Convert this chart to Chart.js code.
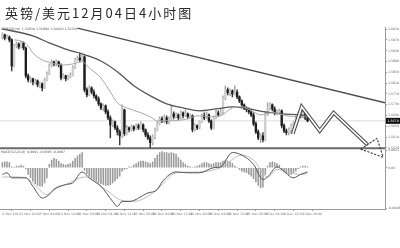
<!DOCTYPE html>
<html>
<head>
<meta charset="utf-8">
<script src="https://cdn.jsdelivr.net/npm/chart.js@4.4.1/dist/chart.umd.min.js"></script>
<style>
  html, body { margin: 0; padding: 0; background: #fff; }
  #wrap { position: relative; width: 400px; height: 248px; overflow: hidden; background: #fff; }
  #title { position: absolute; left: 5px; top: 4px; font: 13px "Noto Sans CJK SC", sans-serif; letter-spacing: 2px; color: #2a2a2a; white-space: nowrap; line-height: 18px; }
  canvas { position: absolute; left: 0; top: 0; }
</style>
</head>
<body>
<div id="wrap">
  <canvas id="c" width="400" height="248" style="width:400px;height:248px"></canvas>
  <div id="title">英镑/美元12月04日4小时图</div>
</div>
<script>
// GBP/USD, 4-hour bars from 4 Nov 2014 12:00 to 4 Dec 2014 04:00
const openP = [
  1.5981,1.5989,1.5977,1.5981,1.5970,1.5874,1.5948,1.5955,1.5944,1.5959,
  1.5940,1.5837,1.5822,1.5826,1.5814,1.5818,1.5803,1.5807,1.5792,1.5822,
  1.5844,1.5874,1.5889,1.5881,1.5889,1.5877,1.5829,1.5837,1.5826,1.5833,
  1.5840,1.5866,1.5896,1.5903,1.5896,1.5907,1.5785,1.5766,1.5792,1.5777,
  1.5763,1.5752,1.5733,1.5718,1.5726,1.5703,1.5681,1.5655,1.5666,1.5644,
  1.5629,1.5614,1.5711,1.5622,1.5644,1.5637,1.5648,1.5640,1.5652,1.5644,
  1.5655,1.5637,1.5618,1.5607,1.5589,1.5611,1.5637,1.5659,1.5677,1.5670,
  1.5681,1.5666,1.5677,1.5696,1.5685,1.5692,1.5681,1.5700,1.5689,1.5696,
  1.5685,1.5689,1.5637,1.5652,1.5644,1.5666,1.5689,1.5681,1.5692,1.5670,
  1.5644,1.5681,1.5700,1.5692,1.5703,1.5755,1.5785,1.5774,1.5781,1.5770,
  1.5777,1.5759,1.5744,1.5729,1.5718,1.5711,1.5703,1.5692,1.5659,1.5629,
  1.5607,1.5614,1.5600,1.5692,1.5718,1.5729,1.5714,1.5700,1.5703,1.5707,
  1.5652,1.5633,1.5626,1.5637,1.5652,1.5659,1.5681,1.5696,1.5689,1.5700,
  1.5681
];
const highP = [
  1.5996,1.5992,1.5989,1.5985,1.5974,1.5955,1.5963,1.5959,1.5966,1.5963,
  1.5944,1.5844,1.5833,1.5829,1.5826,1.5822,1.5814,1.5811,1.5829,1.5852,
  1.5881,1.5896,1.5892,1.5896,1.5892,1.5881,1.5844,1.5840,1.5840,1.5848,
  1.5874,1.5903,1.5911,1.5922,1.5914,1.5911,1.5792,1.5800,1.5796,1.5785,
  1.5766,1.5759,1.5737,1.5733,1.5729,1.5711,1.5689,1.5674,1.5670,1.5652,
  1.5637,1.5729,1.5714,1.5652,1.5648,1.5655,1.5652,1.5659,1.5659,1.5666,
  1.5659,1.5640,1.5626,1.5614,1.5618,1.5644,1.5666,1.5685,1.5685,1.5692,
  1.5689,1.5685,1.5726,1.5703,1.5700,1.5696,1.5707,1.5703,1.5711,1.5700,
  1.5696,1.5692,1.5659,1.5655,1.5670,1.5696,1.5700,1.5703,1.5696,1.5674,
  1.5689,1.5711,1.5707,1.5714,1.5763,1.5800,1.5792,1.5789,1.5785,1.5800,
  1.5785,1.5763,1.5748,1.5733,1.5722,1.5718,1.5711,1.5700,1.5666,1.5637,
  1.5622,1.5626,1.5703,1.5737,1.5737,1.5733,1.5722,1.5711,1.5714,1.5711,
  1.5659,1.5640,1.5644,1.5659,1.5666,1.5689,1.5703,1.5703,1.5707,1.5703,
  1.5689
];
const lowP = [
  1.5974,1.5970,1.5974,1.5963,1.5855,1.5870,1.5940,1.5937,1.5940,1.5933,
  1.5829,1.5814,1.5811,1.5803,1.5807,1.5796,1.5792,1.5781,1.5789,1.5818,
  1.5840,1.5870,1.5874,1.5874,1.5870,1.5822,1.5826,1.5818,1.5822,1.5829,
  1.5837,1.5863,1.5892,1.5889,1.5892,1.5777,1.5759,1.5763,1.5770,1.5755,
  1.5744,1.5726,1.5711,1.5707,1.5696,1.5674,1.5607,1.5648,1.5637,1.5618,
  1.5581,1.5607,1.5614,1.5618,1.5629,1.5633,1.5633,1.5637,1.5637,1.5640,
  1.5629,1.5611,1.5600,1.5570,1.5581,1.5603,1.5633,1.5655,1.5663,1.5663,
  1.5659,1.5659,1.5674,1.5677,1.5681,1.5674,1.5677,1.5681,1.5685,1.5677,
  1.5681,1.5629,1.5633,1.5637,1.5640,1.5663,1.5674,1.5677,1.5663,1.5637,
  1.5640,1.5677,1.5685,1.5689,1.5696,1.5748,1.5766,1.5763,1.5759,1.5766,
  1.5752,1.5737,1.5722,1.5711,1.5703,1.5696,1.5685,1.5652,1.5622,1.5600,
  1.5589,1.5592,1.5596,1.5689,1.5711,1.5707,1.5692,1.5692,1.5696,1.5644,
  1.5626,1.5618,1.5618,1.5622,1.5644,1.5652,1.5674,1.5681,1.5681,1.5674,
  1.5666
];
const closeP = [
  1.5989,1.5977,1.5981,1.5970,1.5874,1.5948,1.5955,1.5944,1.5959,1.5940,
  1.5837,1.5822,1.5826,1.5814,1.5818,1.5803,1.5807,1.5792,1.5822,1.5844,
  1.5874,1.5889,1.5881,1.5889,1.5877,1.5829,1.5837,1.5826,1.5833,1.5840,
  1.5866,1.5896,1.5903,1.5896,1.5907,1.5785,1.5766,1.5792,1.5777,1.5763,
  1.5752,1.5733,1.5718,1.5726,1.5703,1.5681,1.5655,1.5666,1.5644,1.5629,
  1.5614,1.5711,1.5622,1.5644,1.5637,1.5648,1.5640,1.5652,1.5644,1.5655,
  1.5637,1.5618,1.5607,1.5589,1.5611,1.5637,1.5659,1.5677,1.5670,1.5681,
  1.5666,1.5677,1.5696,1.5685,1.5692,1.5681,1.5700,1.5689,1.5696,1.5685,
  1.5689,1.5637,1.5652,1.5644,1.5666,1.5689,1.5681,1.5692,1.5670,1.5644,
  1.5681,1.5700,1.5692,1.5703,1.5755,1.5785,1.5774,1.5781,1.5770,1.5777,
  1.5759,1.5744,1.5729,1.5718,1.5711,1.5703,1.5692,1.5659,1.5629,1.5607,
  1.5614,1.5600,1.5692,1.5718,1.5729,1.5714,1.5700,1.5703,1.5707,1.5652,
  1.5633,1.5626,1.5637,1.5652,1.5659,1.5681,1.5696,1.5689,1.5700,1.5681,
  1.5670
];

// Moving averages, [bar, price]
const maSlow = [[0,1.6011],[13,1.5985],[20,1.5959],[28,1.5933],[34,1.5918],[42,1.5892],[49,1.5852],[56,1.5800],[63,1.5763],[70,1.5733],[77,1.5718],[84,1.5707],[91,1.5714],[98,1.5722],[105,1.5714],[112,1.5703],[119,1.5696],[127,1.5692],[130,1.5689]];
const maFast = [[5,1.5970],[8,1.5966],[11,1.5948],[13,1.5922],[17,1.5896],[21,1.5885],[26,1.5877],[30,1.5881],[34,1.5889],[37,1.5866],[42,1.5829],[46,1.5777],[49,1.5737],[53,1.5718],[59,1.5700],[63,1.5685],[66,1.5670],[71,1.5670],[77,1.5674],[84,1.5689],[88,1.5685],[93,1.5689],[98,1.5718],[102,1.5722],[107,1.5703],[110,1.5692],[115,1.5700],[121,1.5689],[127,1.5685],[130,1.5685]];

// Descending resistance line and projected path, [bar, price]
const trendLine = [[32,1.6014],[163,1.5737]];
const arrowPath = [[123.7,1.5622],[127.5,1.5722],[135.2,1.5633],[141.1,1.5700],[155.6,1.5581]];
const arrowHead = [[152.6,1.5565],[162.2,1.5535],[159.6,1.5605],[152.6,1.5565]];

// MACD(12,26,9)
const macdHist = [
  0.0006,0.0007,0.0007,0.0006,0.0001,0.0000,0.0002,0.0002,0.0003,0.0002,
  -0.0001,-0.0008,-0.0012,-0.0016,-0.0019,-0.0021,-0.0022,-0.0022,-0.0018,-0.0012,
  0.0004,0.0009,0.0011,0.0010,0.0008,0.0005,0.0004,0.0003,0.0004,0.0005,
  0.0008,0.0011,0.0014,0.0016,0.0018,-0.0003,-0.0007,-0.0010,-0.0012,-0.0014,
  -0.0016,-0.0018,-0.0019,-0.0020,-0.0021,-0.0021,-0.0020,-0.0018,-0.0016,-0.0013,
  -0.0010,-0.0004,-0.0002,-0.0001,0.0001,0.0001,0.0003,0.0005,0.0007,0.0008,
  0.0008,0.0007,0.0006,0.0005,0.0007,0.0011,0.0015,0.0018,0.0019,0.0018,
  0.0018,0.0017,0.0018,0.0017,0.0016,0.0012,0.0009,0.0006,0.0004,0.0002,
  0.0001,0.0000,0.0001,0.0002,0.0003,0.0005,0.0006,0.0006,0.0005,0.0004,
  0.0005,0.0006,0.0006,0.0006,0.0008,0.0009,0.0008,0.0007,0.0005,0.0002,
  0.0000,-0.0002,-0.0004,-0.0005,-0.0006,-0.0008,-0.0010,-0.0013,-0.0017,-0.0021,
  -0.0024,-0.0023,-0.0008,0.0002,0.0006,0.0007,0.0006,0.0005,0.0003,-0.0002,
  -0.0005,-0.0007,-0.0008,-0.0008,-0.0006,-0.0004,-0.0001,0.0001,0.0002,0.0002,
  0.0001
];
const macdMain = [[0,-0.0008],[2,-0.0006],[4,-0.0012],[10,-0.0012],[13,-0.0022],[17,-0.0036],[19,-0.0034],[22,-0.0026],[27,-0.0020],[30,-0.0018],[34,-0.0005],[37,-0.0012],[42,-0.0022],[47,-0.0040],[49,-0.0046],[51,-0.0040],[54,-0.0040],[62,-0.0030],[66,-0.0026],[68,-0.0017],[74,-0.0005],[79,-0.0006],[84,-0.0006],[90,0.0000],[93,0.0001],[98,0.0018],[102,0.0015],[107,0.0004],[111,-0.0014],[113,-0.0011],[117,0.0001],[119,-0.0002],[124,-0.0012],[127,-0.0008],[130,-0.0005]];
const macdSignal = [[0,-0.0011],[5,-0.0011],[10,-0.0012],[15,-0.0024],[19,-0.0032],[23,-0.0023],[27,-0.0020],[33,-0.0012],[36,-0.0011],[40,-0.0018],[46,-0.0030],[50,-0.0038],[56,-0.0040],[62,-0.0034],[67,-0.0023],[74,-0.0006],[84,-0.0005],[93,0.0000],[102,0.0015],[107,0.0009],[113,-0.0011],[117,-0.0002],[121,-0.0005],[127,-0.0008],[130,-0.0007]];

// Axis ticks
const xTickIdx = [0,8,16,24,32,40,48,56,64,72,80,88,96,104,112,120,128];
const xTickLabels = ["4 Nov 2014","5 Nov 20:00","7 Nov 04:00","10 Nov 12:00","11 Nov 20:00","13 Nov 04:00","14 Nov 12:00","17 Nov 20:00","19 Nov 04:00","20 Nov 12:00","21 Nov 20:00","25 Nov 04:00","26 Nov 12:00","27 Nov 20:00","1 Dec 04:00","2 Dec 12:00","3 Dec 20:00"];
const priceTicks = [1.5570,1.5610,1.5650,1.5690,1.5730,1.5770,1.5810,1.5850,1.5890,1.5930,1.5970,1.6010];
const macdTicks = [0.0021,0,-0.0048];

const pts = pairs => pairs.map(([x, y]) => ({ x, y }));
const last = closeP.length - 1;
const isUp = i => closeP[i] >= openP[i];
const tiny = { size: 3.2, family: 'DejaVu Sans' };

// Panel separator, header readouts and the last-price tag
const panelDecor = {
  id: 'panelDecor',
  beforeDatasetsDraw(chart) {
    const { ctx, chartArea } = chart;
    const top2 = chart.scales.y2.top;
    ctx.save();
    ctx.strokeStyle = '#6a6a6a';
    ctx.lineWidth = 2;
    ctx.beginPath();
    ctx.moveTo(chartArea.left, top2);
    ctx.lineTo(chartArea.right, top2);
    ctx.stroke();
    ctx.restore();
  },
  afterDraw(chart) {
    const { ctx, chartArea } = chart;
    const top2 = chart.scales.y2.top;
    ctx.save();
    ctx.font = '3.2px "DejaVu Sans"';
    ctx.fillStyle = '#555';
    ctx.textBaseline = 'top';
    ctx.fillText('GBPUSD,H4  ' + [openP[last], highP[last], lowP[last], closeP[last]].map(v => v.toFixed(5)).join(' '), chartArea.left + 1, chartArea.top + 1);
    ctx.fillText('MACD(12,26,9)  ' + [macdHist[last], macdMain[macdMain.length - 1][1], macdSignal[macdSignal.length - 1][1]].map(v => v.toFixed(4)).join(' '), chartArea.left + 1, top2 + 2);
    const py = chart.scales.y.getPixelForValue(closeP[last]);
    ctx.fillStyle = '#111';
    ctx.fillRect(chartArea.right + 1, py - 3, 14, 6);
    ctx.fillStyle = '#fff';
    ctx.textBaseline = 'middle';
    ctx.fillText(closeP[last].toFixed(4), chartArea.right + 2.5, py);
    ctx.restore();
  }
};

new Chart(document.getElementById('c'), {
  type: 'bar',
  data: {
    datasets: [
      { type: 'line', label: 'Projection head', yAxisID: 'y', data: pts(arrowHead), borderColor: '#3a3a3a', borderWidth: 1.1, borderDash: [2.2, 1.4], tension: 0, clip: false, order: 0 },
      { type: 'line', label: 'Projection', yAxisID: 'y', data: pts(arrowPath), borderColor: '#fff', borderWidth: 1.6, tension: 0, borderJoinStyle: 'miter', clip: false, order: 1 },
      { type: 'line', label: 'Projection edge', yAxisID: 'y', data: pts(arrowPath), borderColor: '#4a4a4a', borderWidth: 3.8, tension: 0, borderJoinStyle: 'miter', clip: false, order: 2 },
      { type: 'line', label: 'MA fast', yAxisID: 'y', data: pts(maFast), borderColor: '#a8a8a8', borderWidth: 1, cubicInterpolationMode: 'monotone', order: 3 },
      { type: 'line', label: 'MA slow', yAxisID: 'y', data: pts(maSlow), borderColor: '#555', borderWidth: 1.3, cubicInterpolationMode: 'monotone', order: 4 },
      { type: 'bar', label: 'Body', yAxisID: 'y', grouped: false, barThickness: 1.7, minBarLength: 0.8,
        data: openP.map((o, i) => ({ x: i, y: [o, closeP[i]] })),
        backgroundColor: c => isUp(c.dataIndex) ? '#cfcfcf' : '#1c1c1c', order: 5 },
      { type: 'bar', label: 'Wick', yAxisID: 'y', grouped: false, barThickness: 0.8,
        data: lowP.map((l, i) => ({ x: i, y: [l, highP[i]] })),
        backgroundColor: c => isUp(c.dataIndex) ? '#a5a5a5' : '#3a3a3a', order: 6 },
      { type: 'line', label: 'Trend', yAxisID: 'y', data: pts(trendLine), borderColor: '#4d4d4d', borderWidth: 1.4, tension: 0, order: 7 },
      { type: 'line', label: 'Last', yAxisID: 'y', data: [{ x: -1, y: closeP[last] }, { x: 163, y: closeP[last] }], borderColor: '#d2d2d2', borderWidth: 0.8, tension: 0, order: 8 },
      { type: 'line', label: 'MACD', yAxisID: 'y2', data: pts(macdMain), borderColor: '#555', borderWidth: 1, cubicInterpolationMode: 'monotone', order: 3 },
      { type: 'line', label: 'Signal', yAxisID: 'y2', data: pts(macdSignal), borderColor: '#bdbdbd', borderWidth: 1, cubicInterpolationMode: 'monotone', order: 4 },
      { type: 'bar', label: 'Histogram', yAxisID: 'y2', grouped: false, barThickness: 0.9,
        data: macdHist.map((v, i) => ({ x: i, y: v })), backgroundColor: '#9a9a9a', order: 6 }
    ]
  },
  options: {
    responsive: false,
    animation: false,
    layout: { padding: { top: 27, bottom: 31, left: 0, right: 0 } },
    plugins: { legend: { display: false }, tooltip: { enabled: false }, title: { display: false } },
    elements: { point: { radius: 0 }, line: { borderJoinStyle: 'round' } },
    scales: {
      x: {
        type: 'linear', min: -1, max: 163, offset: false, position: 'bottom',
        grid: { display: true, drawOnChartArea: false, drawTicks: true, tickLength: 2, color: '#999' },
        border: { color: '#9a9a9a', width: 1 },
        ticks: { font: tiny, color: '#777', padding: 1, align: 'start', autoSkip: false, maxRotation: 0, minRotation: 0, callback: (v, i) => xTickLabels[i] },
        afterBuildTicks: s => { s.ticks = xTickIdx.map(v => ({ value: v })); },
        afterFit: s => { s.height = 8; }
      },
      y: {
        type: 'linear', position: 'right', stack: 'panels', stackWeight: 2, weight: 1,
        min: 1.5568, max: 1.6018,
        grid: { display: true, drawOnChartArea: false, drawTicks: true, tickLength: 2, color: '#999' },
        border: { color: '#9a9a9a', width: 1 },
        ticks: { font: tiny, color: '#666', padding: 1, autoSkip: false, callback: v => v.toFixed(4) },
        afterBuildTicks: s => { s.ticks = priceTicks.map(v => ({ value: v })); },
        afterFit: s => { s.width = 15; }
      },
      y2: {
        type: 'linear', position: 'right', stack: 'panels', stackWeight: 1, weight: 2,
        min: -0.0049, max: 0.0023,
        grid: { display: true, drawOnChartArea: false, drawTicks: true, tickLength: 2, color: '#999' },
        border: { color: '#9a9a9a', width: 1 },
        ticks: { font: tiny, color: '#666', padding: 1, autoSkip: false, callback: v => v === 0 ? '0.00' : v.toFixed(4) },
        afterBuildTicks: s => { s.ticks = macdTicks.map(v => ({ value: v })); },
        afterFit: s => { s.width = 15; }
      }
    }
  },
  plugins: [panelDecor]
});
</script>
</body>
</html>
